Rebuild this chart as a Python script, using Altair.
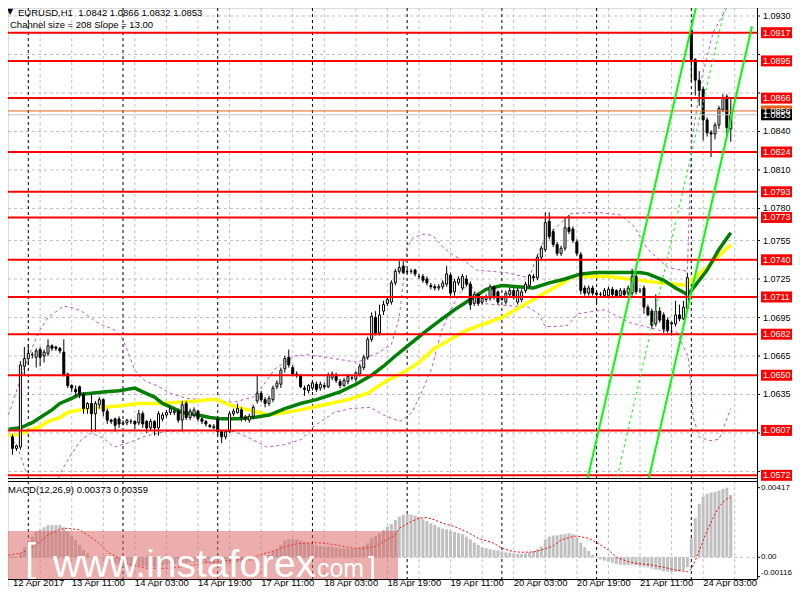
import altair as alt
import pandas as pd

# ---------------- data ----------------
bar_open = [
    1.0611, 1.0602, 1.0593, 1.0594, 1.0657, 1.0663, 1.0666, 1.0664, 1.0670, 1.0665,
    1.0667, 1.0673, 1.0672, 1.0671, 1.0668, 1.0651, 1.0642, 1.0639, 1.0641, 1.0635,
    1.0624, 1.0628, 1.0620, 1.0627, 1.0631, 1.0622, 1.0615, 1.0616, 1.0616, 1.0612,
    1.0613, 1.0614, 1.0614, 1.0613, 1.0620, 1.0614, 1.0609, 1.0614, 1.0609, 1.0616,
    1.0619, 1.0621, 1.0621, 1.0622, 1.0615, 1.0628, 1.0617, 1.0619, 1.0622, 1.0616,
    1.0614, 1.0611, 1.0609, 1.0616, 1.0606, 1.0602, 1.0606, 1.0620, 1.0621, 1.0623,
    1.0617, 1.0615, 1.0618, 1.0630, 1.0636, 1.0631, 1.0628, 1.0631, 1.0641, 1.0643,
    1.0655, 1.0664, 1.0656, 1.0651, 1.0650, 1.0640, 1.0638, 1.0640, 1.0643, 1.0640,
    1.0642, 1.0641, 1.0648, 1.0650, 1.0645, 1.0642, 1.0645, 1.0648, 1.0647, 1.0651,
    1.0656, 1.0664, 1.0678, 1.0695, 1.0683, 1.0700, 1.0706, 1.0707, 1.0722, 1.0731,
    1.0735, 1.0731, 1.0731, 1.0732, 1.0727, 1.0727, 1.0725, 1.0720, 1.0719, 1.0718,
    1.0719, 1.0721, 1.0728, 1.0715, 1.0722, 1.0718, 1.0725, 1.0721, 1.0706, 1.0713,
    1.0707, 1.0709, 1.0710, 1.0719, 1.0715, 1.0709, 1.0707, 1.0713, 1.0716, 1.0707,
    1.0709, 1.0716, 1.0720, 1.0727, 1.0726, 1.0742, 1.0748, 1.0770, 1.0762, 1.0752,
    1.0745, 1.0749, 1.0765, 1.0764, 1.0754, 1.0744, 1.0718, 1.0714, 1.0718, 1.0714,
    1.0713, 1.0712, 1.0712, 1.0717, 1.0716, 1.0712, 1.0716, 1.0714, 1.0714, 1.0727,
    1.0716, 1.0718, 1.0703, 1.0700, 1.0690, 1.0700, 1.0697, 1.0693, 1.0690, 1.0690,
    1.0697, 1.0694, 1.0702, 1.0919, 1.0896, 1.0880, 1.0873, 1.0849, 1.0839, 1.0838,
    1.0845, 1.0857, 1.0867, 1.0842,
]
bar_high = [
    1.0613, 1.0604, 1.0596, 1.0661, 1.0672, 1.0674, 1.0668, 1.0671, 1.0672, 1.0670,
    1.0678, 1.0674, 1.0673, 1.0672, 1.0678, 1.0652, 1.0643, 1.0642, 1.0642, 1.0637,
    1.0629, 1.0636, 1.0630, 1.0633, 1.0632, 1.0624, 1.0616, 1.0617, 1.0618, 1.0615,
    1.0616, 1.0616, 1.0615, 1.0623, 1.0622, 1.0615, 1.0616, 1.0615, 1.0622, 1.0621,
    1.0623, 1.0626, 1.0624, 1.0624, 1.0630, 1.0630, 1.0624, 1.0625, 1.0623, 1.0617,
    1.0615, 1.0612, 1.0612, 1.0618, 1.0607, 1.0607, 1.0622, 1.0624, 1.0628, 1.0625,
    1.0619, 1.0620, 1.0627, 1.0650, 1.0638, 1.0633, 1.0634, 1.0642, 1.0646, 1.0656,
    1.0665, 1.0670, 1.0658, 1.0653, 1.0651, 1.0642, 1.0643, 1.0646, 1.0645, 1.0645,
    1.0644, 1.0652, 1.0653, 1.0652, 1.0647, 1.0648, 1.0651, 1.0650, 1.0653, 1.0659,
    1.0666, 1.0680, 1.0699, 1.0700, 1.0705, 1.0708, 1.0711, 1.0724, 1.0733, 1.0739,
    1.0739, 1.0733, 1.0733, 1.0733, 1.0729, 1.0729, 1.0727, 1.0722, 1.0721, 1.0721,
    1.0724, 1.0735, 1.0730, 1.0725, 1.0727, 1.0729, 1.0728, 1.0723, 1.0715, 1.0714,
    1.0712, 1.0713, 1.0721, 1.0720, 1.0716, 1.0712, 1.0716, 1.0718, 1.0718, 1.0718,
    1.0717, 1.0723, 1.0729, 1.0729, 1.0744, 1.0751, 1.0777, 1.0777, 1.0764, 1.0754,
    1.0751, 1.0773, 1.0775, 1.0766, 1.0756, 1.0746, 1.0720, 1.0720, 1.0720, 1.0715,
    1.0715, 1.0718, 1.0719, 1.0719, 1.0717, 1.0718, 1.0718, 1.0720, 1.0733, 1.0729,
    1.0718, 1.0720, 1.0705, 1.0702, 1.0713, 1.0703, 1.0699, 1.0695, 1.0692, 1.0708,
    1.0705, 1.0708, 1.0730, 1.0921, 1.0897, 1.0887, 1.0875, 1.0851, 1.0841, 1.0847,
    1.0860, 1.0869, 1.0869, 1.0866,
]
bar_low = [
    1.0597, 1.0588, 1.0591, 1.0592, 1.0650, 1.0658, 1.0663, 1.0656, 1.0657, 1.0660,
    1.0665, 1.0669, 1.0669, 1.0667, 1.0649, 1.0640, 1.0637, 1.0633, 1.0632, 1.0620,
    1.0620, 1.0606, 1.0606, 1.0624, 1.0618, 1.0612, 1.0612, 1.0606, 1.0609, 1.0611,
    1.0611, 1.0612, 1.0608, 1.0611, 1.0609, 1.0605, 1.0607, 1.0603, 1.0603, 1.0614,
    1.0617, 1.0619, 1.0619, 1.0613, 1.0606, 1.0615, 1.0615, 1.0617, 1.0614, 1.0612,
    1.0610, 1.0609, 1.0608, 1.0603, 1.0597, 1.0600, 1.0605, 1.0618, 1.0620, 1.0614,
    1.0614, 1.0613, 1.0616, 1.0628, 1.0629, 1.0625, 1.0626, 1.0629, 1.0639, 1.0640,
    1.0652, 1.0656, 1.0650, 1.0648, 1.0640, 1.0634, 1.0636, 1.0638, 1.0637, 1.0638,
    1.0639, 1.0640, 1.0646, 1.0644, 1.0640, 1.0641, 1.0643, 1.0646, 1.0645, 1.0649,
    1.0654, 1.0662, 1.0676, 1.0681, 1.0681, 1.0697, 1.0704, 1.0705, 1.0720, 1.0729,
    1.0729, 1.0729, 1.0729, 1.0727, 1.0725, 1.0722, 1.0720, 1.0717, 1.0716, 1.0716,
    1.0717, 1.0719, 1.0710, 1.0712, 1.0720, 1.0716, 1.0719, 1.0701, 1.0704, 1.0704,
    1.0705, 1.0707, 1.0708, 1.0709, 1.0705, 1.0708, 1.0705, 1.0711, 1.0709, 1.0705,
    1.0707, 1.0714, 1.0718, 1.0723, 1.0724, 1.0740, 1.0746, 1.0756, 1.0750, 1.0743,
    1.0743, 1.0747, 1.0760, 1.0753, 1.0743, 1.0713, 1.0712, 1.0712, 1.0712, 1.0706,
    1.0711, 1.0711, 1.0710, 1.0711, 1.0710, 1.0711, 1.0711, 1.0712, 1.0712, 1.0713,
    1.0714, 1.0698, 1.0696, 1.0686, 1.0688, 1.0691, 1.0683, 1.0683, 1.0681, 1.0688,
    1.0692, 1.0693, 1.0700, 1.0879, 1.0868, 1.0860, 1.0833, 1.0836, 1.0820, 1.0834,
    1.0842, 1.0855, 1.0836, 1.0832,
]
bar_close = [
    1.0602, 1.0593, 1.0595, 1.0658, 1.0663, 1.0667, 1.0666, 1.0669, 1.0664, 1.0668,
    1.0673, 1.0671, 1.0671, 1.0669, 1.0650, 1.0642, 1.0640, 1.0637, 1.0635, 1.0624,
    1.0628, 1.0620, 1.0628, 1.0631, 1.0622, 1.0615, 1.0614, 1.0611, 1.0612, 1.0613,
    1.0615, 1.0614, 1.0612, 1.0620, 1.0612, 1.0609, 1.0614, 1.0609, 1.0620, 1.0619,
    1.0621, 1.0624, 1.0622, 1.0615, 1.0627, 1.0617, 1.0622, 1.0623, 1.0616, 1.0614,
    1.0612, 1.0610, 1.0610, 1.0606, 1.0602, 1.0606, 1.0620, 1.0622, 1.0624, 1.0617,
    1.0616, 1.0618, 1.0625, 1.0636, 1.0631, 1.0628, 1.0632, 1.0640, 1.0644, 1.0654,
    1.0663, 1.0658, 1.0651, 1.0650, 1.0641, 1.0639, 1.0642, 1.0644, 1.0639, 1.0643,
    1.0641, 1.0650, 1.0651, 1.0646, 1.0642, 1.0646, 1.0649, 1.0648, 1.0652, 1.0657,
    1.0664, 1.0678, 1.0696, 1.0683, 1.0697, 1.0705, 1.0709, 1.0722, 1.0731, 1.0734,
    1.0730, 1.0731, 1.0731, 1.0729, 1.0727, 1.0724, 1.0722, 1.0719, 1.0718, 1.0719,
    1.0722, 1.0729, 1.0714, 1.0723, 1.0725, 1.0727, 1.0721, 1.0705, 1.0713, 1.0706,
    1.0710, 1.0711, 1.0719, 1.0712, 1.0707, 1.0710, 1.0714, 1.0716, 1.0711, 1.0716,
    1.0715, 1.0721, 1.0728, 1.0726, 1.0742, 1.0749, 1.0769, 1.0758, 1.0752, 1.0745,
    1.0749, 1.0765, 1.0762, 1.0755, 1.0745, 1.0716, 1.0714, 1.0718, 1.0714, 1.0713,
    1.0713, 1.0716, 1.0717, 1.0713, 1.0712, 1.0716, 1.0713, 1.0718, 1.0727, 1.0715,
    1.0716, 1.0703, 1.0697, 1.0689, 1.0700, 1.0693, 1.0686, 1.0685, 1.0691, 1.0697,
    1.0694, 1.0703, 1.0726, 1.0896, 1.0880, 1.0872, 1.0849, 1.0839, 1.0838, 1.0845,
    1.0858, 1.0866, 1.0843, 1.0853,
]

# MACD main (histogram) in units of 1e-5
macd_e5 = [
    14, 8, 0, 24, 60, 94, 124, 154, 168, 180,
    192, 194, 194, 194, 180, 154, 128, 104, 74, 44,
    24, 4, 0, 0, -8, -20, -32, -42, -48, -52,
    -56, -56, -56, -52, -54, -56, -56, -58, -52, -48,
    -44, -40, -38, -40, -32, -32, -30, -28, -30, -32,
    -34, -36, -38, -44, -50, -50, -40, -32, -28, -26,
    -24, -22, -20, -6, 0, 4, 14, 34, 48, 74,
    100, 108, 110, 108, 100, 92, 84, 80, 72, 68,
    64, 64, 62, 58, 54, 54, 52, 52, 52, 58,
    68, 84, 114, 128, 144, 164, 184, 200, 224, 244,
    254, 258, 256, 250, 244, 228, 218, 204, 194, 180,
    172, 168, 158, 152, 144, 138, 124, 108, 88, 74,
    60, 54, 48, 44, 40, 36, 30, 28, 24, 20,
    20, 24, 30, 38, 48, 64, 108, 124, 130, 132,
    136, 140, 144, 138, 118, 88, 60, 38, 14, -4,
    -12, -20, -26, -32, -40, -44, -46, -46, -44, -48,
    -52, -56, -60, -68, -72, -76, -84, -86, -88, -86,
    -84, -76, -60, 114, 234, 320, 364, 380, 388, 392,
    400, 410, 417, 373,
]
# MACD signal (red dotted), 1e-5 units
signal_idx = [0, 3, 5, 8, 10, 13, 15, 18, 20, 23, 25, 28, 30, 33, 35, 38, 40, 43, 45, 48,
              50, 53, 55, 58, 60, 63, 65, 68, 70, 73, 75, 78, 80, 83, 85, 88, 90, 93, 95, 98,
              99, 102, 104, 106, 108, 110, 113, 116, 119, 123, 125, 128, 130, 133, 135, 138, 140, 143, 144, 147,
              149, 152, 154, 157, 159, 163, 166, 169, 172, 173, 174, 175, 176, 177, 178, 179, 180, 181, 182, 183]
signal_e5 = [14, 24, 44, 94, 134, 168, 174, 164, 134, 84, 34, -6, -36, -56, -66, -66, -66, -60, -52, -42,
             -32, -26, -20, -16, -6, 8, 24, 44, 64, 80, 84, 88, 84, 74, 64, 54, 54, 64, 94, 134,
             174, 214, 234, 238, 224, 204, 184, 154, 114, 84, 54, 34, 30, 32, 44, 68, 104, 124, 128, 114,
             88, 44, 0, -26, -36, -46, -60, -76, -86, -70, -20, 40, 100, 160, 210, 260, 300, 330, 350, 359]

# moving averages (dark green = fast, yellow = slow)
green_idx = [0, 3, 6, 8, 11, 13, 16, 18, 21, 24, 28, 32, 34, 37, 39, 42, 44, 48, 51, 54, 58, 62, 66, 70, 74,
             78, 84, 88, 92, 95, 98, 102, 106, 109, 113, 117, 121, 125, 129, 133, 137, 141, 145, 149, 160,
             162, 166, 169, 172, 173, 177, 180, 183]
green_val = [1.0608, 1.0609, 1.0613, 1.0617, 1.0623, 1.0628, 1.0632, 1.0635, 1.0636, 1.0637, 1.0638, 1.0640,
             1.0637, 1.0633, 1.0628, 1.0624, 1.0621, 1.0619, 1.0617, 1.0616, 1.0616, 1.0617, 1.0619, 1.0624,
             1.0628, 1.0631, 1.0637, 1.0643, 1.0650, 1.0657, 1.0665, 1.0675, 1.0685, 1.0692, 1.0701, 1.0709,
             1.0717, 1.0720, 1.0719, 1.0718, 1.0722, 1.0725, 1.0729, 1.0730, 1.0730, 1.0729, 1.0724, 1.0718,
             1.0713, 1.0716, 1.0732, 1.0748, 1.0761]
yellow_idx = [0, 3, 5, 8, 10, 13, 15, 18, 20, 24, 28, 33, 38, 43, 48, 51, 53, 55, 58, 62, 66, 70, 74, 80, 86,
              91, 96, 100, 104, 108, 116, 125, 133, 141, 143, 147, 152, 157, 160, 165, 169, 172, 173, 177, 183]
yellow_val = [1.0603, 1.0604, 1.0607, 1.0610, 1.0614, 1.0617, 1.0621, 1.0623, 1.0624, 1.0625, 1.0626, 1.0628,
              1.0628, 1.0629, 1.0630, 1.0631, 1.0631, 1.0628, 1.0625, 1.0622, 1.0619, 1.0621, 1.0623, 1.0627,
              1.0631, 1.0636, 1.0646, 1.0652, 1.0660, 1.0671, 1.0685, 1.0695, 1.0709, 1.0723, 1.0727, 1.0727,
              1.0727, 1.0725, 1.0724, 1.0722, 1.0721, 1.0720, 1.0724, 1.0734, 1.0752]

# Bollinger bands (purple dotted); the lower band leaves the window at the bottom between bars ~5 and ~13
bb_up_idx = [0, 4, 7.5, 10, 14, 17, 19, 22, 24, 27, 29, 31, 32, 33.5, 35, 37.5, 41, 45, 57, 62, 64, 67.5, 70,
             72.5, 76, 82.5, 88.5, 91, 94, 97, 99, 101, 102.5, 105, 107.5, 110, 112.5, 116, 118.5, 126, 132,
             133.5, 136, 139, 142.5, 149, 155, 158.5, 162, 167, 172, 173, 175.5, 178.5, 183]
bb_up_val = [1.0619, 1.0656, 1.0683, 1.0695, 1.0704, 1.0702, 1.0699, 1.0692, 1.0689, 1.0685, 1.0678, 1.0662,
             1.0654, 1.0648, 1.0645, 1.0642, 1.0636, 1.0632, 1.0629, 1.0633, 1.0640, 1.0655, 1.0660, 1.0665,
             1.0666, 1.0663, 1.0660, 1.0664, 1.0668, 1.0674, 1.0695, 1.0750, 1.0757, 1.0760, 1.0759, 1.0750,
             1.0744, 1.0738, 1.0732, 1.0730, 1.0726, 1.0740, 1.0757, 1.0766, 1.0776, 1.0777, 1.0775, 1.0766,
             1.0748, 1.0734, 1.0731, 1.0830, 1.0880, 1.0917, 1.0942]
bb_lo1_idx = [0.5, 2.5, 4.25, 5.2]
bb_lo1_val = [1.0603, 1.0592, 1.0576, 1.0570]
bb_lo2_idx = [12.7, 13.5, 16, 18.5, 21, 24, 26.75, 31, 34.25, 39.25, 45, 51.75, 57.5, 61.75,
              65.5, 70, 74.25, 76.75, 82.5, 86.75, 91.75, 95, 99.25, 102.25, 105, 107.25, 109.75, 111.75,
              114.25, 116.75, 120, 123.5, 131.75, 134.25, 136, 139.25, 141.75, 144.25, 151, 157.5, 165,
              169.25, 172.25, 173.5, 175, 177.5, 180, 183]
bb_lo2_val = [1.0570, 1.0576, 1.0589, 1.0600, 1.0605, 1.0601, 1.0594, 1.0598,
              1.0602, 1.0606, 1.0607, 1.0607, 1.0606, 1.0600, 1.0594, 1.0596, 1.0600, 1.0609, 1.0621, 1.0624,
              1.0625, 1.0619, 1.0614, 1.0621, 1.0639, 1.0656, 1.0685, 1.0699, 1.0714, 1.0722, 1.0706, 1.0705,
              1.0703, 1.0698, 1.0688, 1.0688, 1.0689, 1.0698, 1.0701, 1.0691, 1.0685, 1.0684, 1.0664, 1.0617,
              1.0602, 1.0599, 1.0600, 1.0624]

# linear regression channel (bright green), end points read on the picture
chan_lo_idx = [146.75, 174.6]
chan_lo_val = [1.0570, 1.09425]
chan_mid_idx = [154.25, 182.0]
chan_mid_val = [1.0571, 1.0943]
chan_hi_idx = [162.25, 188.375]
chan_hi_val = [1.0570, 1.0922]

levels = [1.0917, 1.0895, 1.0866, 1.0824, 1.0793, 1.0773, 1.0740, 1.0711, 1.0682, 1.0650, 1.0607, 1.0572]
ask_price = 1.0856
bid_price = 1.0853

day_starts = [5, 29, 53, 77, 101, 125, 149, 173]
price_grid = [1.0930, 1.0900, 1.0870, 1.0840, 1.0810, 1.0780, 1.0755, 1.0725, 1.0695, 1.0665, 1.0635,
              1.0605, 1.0575]
price_labels = [1.0930, 1.0840, 1.0810, 1.0780, 1.0755, 1.0725, 1.0695, 1.0665, 1.0635]
time_tick_idx = [0, 16, 32, 48, 64, 80, 96, 112, 128, 144, 160, 176]
time_tick_text = ["12 Apr 2017", "13 Apr 11:00", "14 Apr 03:00", "14 Apr 19:00", "17 Apr 11:00",
                  "18 Apr 03:00", "18 Apr 19:00", "19 Apr 11:00", "20 Apr 03:00", "20 Apr 19:00",
                  "21 Apr 11:00", "24 Apr 03:00"]
macd_ticks = [0.00417, 0.0]
macd_tick_text = ["0.00417", "0.00"]
macd_min_tick = -0.00116
macd_min_text = "-0.00116"

header_text = "EURUSD,H1\u00a0 1.0842 1.0866 1.0832 1.0853"
channel_text = "Channel size = 208 Slope = 13.00"
macd_title = "MACD(12,26,9) 0.00373 0.00359"
wm_texts = ["[", "www.instaforex", ".com", "]"]

# ---------------- layout / style ----------------
FONT = "Liberation Sans"
FS = 9.5
FS_R = 9                   # texts on the price scale
FS_M = 8                   # texts on the MACD scale
GRID = "#C0C0C0"
X_MIN, X_MAX = 1.125, 188.375
VW, VH = 784, 579          # whole drawing (fits the 800x600 page inside its 8px margin)
PW = 749                   # plot width (price scale to the right)
M_TOP, M_BOT = 0, 470      # price panel
B_TOP, B_BOT = 473, 571    # MACD panel
PX_PER_PRICE = 12830.0
BOX_HALF = 5.5 / PX_PER_PRICE

xs = alt.Scale(domain=[X_MIN, X_MAX], range=[0, PW], nice=False, zero=False)
ys = alt.Scale(domain=[1.056991, 1.093624], range=[M_BOT, M_TOP], nice=False, zero=False)
ms = alt.Scale(domain=[-0.00130, 0.004572], range=[B_BOT, B_TOP], nice=False, zero=False)


def X(f="i"):
    return alt.X(f"{f}:Q", scale=xs, axis=None)


def YM(f):
    return alt.Y(f"{f}:Q", scale=ys, axis=None)


def YB(f):
    return alt.Y(f"{f}:Q", scale=ms, axis=None)


def txt(s, x, y, size=FS, align="left", baseline="middle", color="black", font=FONT):
    return alt.Chart(pd.DataFrame({"t": [s]})).mark_text(
        align=align, baseline=baseline, font=font, fontSize=size, color=color).encode(
        x=alt.value(x), y=alt.value(y), text="t:N")


# ---------------- tables ----------------
n = len(bar_close)
candles = pd.DataFrame({"i": list(range(n)), "o": bar_open, "h": bar_high, "l": bar_low, "c": bar_close})
candles = candles[candles["i"] >= 1]
seps = pd.DataFrame({"i": day_starts})
vgrid = pd.DataFrame({"i": list(range(8, 189, 8))})
hgrid = pd.DataFrame({"p": price_grid})
plabels = pd.DataFrame({"p": price_labels, "t": [f"{v:.4f}" for v in price_labels]})
green = pd.DataFrame({"i": green_idx, "p": green_val})
yellow = pd.DataFrame({"i": yellow_idx, "p": yellow_val})
bb = pd.concat([pd.DataFrame({"i": bb_up_idx, "p": bb_up_val, "k": "up"}),
                pd.DataFrame({"i": bb_lo1_idx, "p": bb_lo1_val, "k": "lo1"}),
                pd.DataFrame({"i": bb_lo2_idx, "p": bb_lo2_val, "k": "lo2"})])
chan_solid = pd.concat([pd.DataFrame({"i": chan_lo_idx, "p": chan_lo_val, "k": "a"}),
                        pd.DataFrame({"i": chan_hi_idx, "p": chan_hi_val, "k": "b"})])
chan_mid = pd.DataFrame({"i": chan_mid_idx, "p": chan_mid_val})
lev = pd.DataFrame({"p": levels})

box_p = levels + [ask_price, bid_price]
box_col = ["#FF0000"] * len(levels) + ["#E8601C", "#000000"]
boxes = pd.DataFrame({"p": box_p, "col": box_col})
boxes["lo"] = boxes["p"] - BOX_HALF
boxes["hi"] = boxes["p"] + BOX_HALF
boxes["txt"] = [f"{v:.4f}" for v in box_p]

macd = pd.DataFrame({"i": list(range(n)), "v": [m * 1e-5 for m in macd_e5], "z": 0.0})
macd = macd[macd["i"] >= 1]
sig = pd.DataFrame({"i": signal_idx, "v": [s * 1e-5 for s in signal_e5]})
mlabels = pd.DataFrame({"v": macd_ticks, "t": macd_tick_text})
mmin = pd.DataFrame({"v": [macd_min_tick], "t": [macd_min_text]})
tlabels = pd.DataFrame({"i": [max(k, X_MIN) for k in time_tick_idx], "t": time_tick_text})
one = pd.DataFrame({"a": [0]})

# ---------------- price panel ----------------
vgrid_m = alt.Chart(vgrid).mark_rule(color=GRID, strokeDash=[3, 3], strokeWidth=1).encode(
    x=X(), y=alt.value(M_TOP), y2=alt.value(M_BOT))
hgrid_m = alt.Chart(hgrid).mark_rule(color=GRID, strokeDash=[3, 3], strokeWidth=1).encode(
    y=YM("p"), x=alt.value(0), x2=alt.value(PW))
sep_m = alt.Chart(seps).mark_rule(color="black", strokeDash=[3, 3], strokeWidth=1).encode(
    x=X(), y=alt.value(M_TOP), y2=alt.value(M_BOT))
bands = alt.Chart(bb).mark_line(color="#BA55D3", strokeDash=[3, 3], strokeWidth=1).encode(
    x=X(), y=YM("p"), detail="k:N")
ma_slow = alt.Chart(yellow).mark_line(color="#FFFF00", strokeWidth=3.5).encode(x=X(), y=YM("p"))
ma_fast = alt.Chart(green).mark_line(color="#008000", strokeWidth=3.5).encode(x=X(), y=YM("p"))
wicks = alt.Chart(candles).mark_rule(color="black", strokeWidth=1).encode(x=X(), y=YM("l"), y2="h")
bodies = alt.Chart(candles).mark_bar(width=2, stroke="black", strokeWidth=1).encode(
    x=X(), y=YM("o"), y2="c",
    fill=alt.condition("datum.c >= datum.o", alt.value("white"), alt.value("black")))
level_lines = alt.Chart(lev).mark_rule(color="#FF0000", strokeWidth=2).encode(
    y=YM("p"), x=alt.value(0), x2=alt.value(PW))
ask_line = alt.Chart(pd.DataFrame({"p": [ask_price]})).mark_rule(color="#E8601C", strokeWidth=1).encode(
    y=YM("p"), x=alt.value(0), x2=alt.value(PW))
bid_line = alt.Chart(pd.DataFrame({"p": [bid_price]})).mark_rule(color="#C0C0C0", strokeWidth=1).encode(
    y=YM("p"), x=alt.value(0), x2=alt.value(PW))
chan_lines = alt.Chart(chan_solid).mark_line(color="#00FF00", strokeWidth=2).encode(
    x=X(), y=YM("p"), detail="k:N")
chan_center = alt.Chart(chan_mid).mark_line(color="#00FF00", strokeWidth=1, strokeDash=[3, 3]).encode(
    x=X(), y=YM("p"))
price_ticks = alt.Chart(hgrid).mark_rule(color="black", strokeWidth=1).encode(
    y=YM("p"), x=alt.value(PW), x2=alt.value(PW + 3))
price_text = alt.Chart(plabels).mark_text(align="left", baseline="middle", font=FONT, fontSize=FS_R,
                                          color="black").encode(x=alt.value(PW + 6), y=YM("p"), text="t:N")
box_rects = alt.Chart(boxes).mark_rect().encode(
    x=alt.value(PW + 4), x2=alt.value(VW), y=YM("lo"), y2="hi", color=alt.Color("col:N", scale=None))
box_text = alt.Chart(boxes).mark_text(align="left", baseline="middle", color="white", font=FONT,
                                      fontSize=FS_R).encode(x=alt.value(PW + 6), y=YM("p"), text="txt:N")
border_r = alt.Chart(one).mark_rule(color="black", strokeWidth=1).encode(
    x=alt.value(PW + 0.5), y=alt.value(0), y2=alt.value(B_BOT + 0.5))
border_mb = alt.Chart(one).mark_rule(color="black", strokeWidth=1).encode(
    y=alt.value(M_BOT + 0.5), x=alt.value(0), x2=alt.value(PW))

# ---------------- MACD panel ----------------
vgrid_b = alt.Chart(vgrid).mark_rule(color=GRID, strokeDash=[3, 3], strokeWidth=1).encode(
    x=X(), y=alt.value(B_TOP), y2=alt.value(B_BOT))
sep_b = alt.Chart(seps).mark_rule(color="black", strokeDash=[3, 3], strokeWidth=1).encode(
    x=X(), y=alt.value(B_TOP), y2=alt.value(B_BOT))
zero_line = alt.Chart(pd.DataFrame({"v": [0.0]})).mark_rule(color=GRID, strokeDash=[3, 3], strokeWidth=1).encode(
    y=YB("v"), x=alt.value(0), x2=alt.value(PW))
hist = alt.Chart(macd).mark_bar(width=3, color="#C0C0C0").encode(x=X(), y=YB("v"), y2="z")
sig_line = alt.Chart(sig).mark_line(color="#FF0000", strokeDash=[2, 2], strokeWidth=1).encode(
    x=X(), y=YB("v"))
macd_ticks_r = alt.Chart(pd.concat([mlabels, mmin])).mark_rule(color="black", strokeWidth=1).encode(
    y=YB("v"), x=alt.value(PW), x2=alt.value(PW + 3))
macd_text = alt.Chart(mlabels).mark_text(align="left", baseline="middle", font=FONT, fontSize=FS_M,
                                         color="black").encode(x=alt.value(PW + 4), y=YB("v"), text="t:N")
macd_min_text_l = alt.Chart(mmin).mark_text(align="left", baseline="bottom", font=FONT, fontSize=FS_M,
                                            color="black").encode(x=alt.value(PW + 4), y=YB("v"), text="t:N")
wm_rect = alt.Chart(one).mark_rect(color="#D95B5B", opacity=0.5).encode(
    x=alt.value(0), x2=alt.value(390), y=alt.value(B_TOP + 50), y2=alt.value(B_BOT))
wm_pos = [(17, B_TOP + 91, 40), (45, B_TOP + 96, 39), (302, B_TOP + 96, 25), (360, B_TOP + 95, 28)]
wm_layers = [txt(t, xv, yv, size=fs, baseline="alphabetic", color="white")
             for t, (xv, yv, fs) in zip(wm_texts, wm_pos)]
time_text = alt.Chart(tlabels).mark_text(align="left", baseline="alphabetic", font=FONT, fontSize=FS,
                                         color="black").encode(x=X(), y=alt.value(VH - 1.5), text="t:N")
border_bt = alt.Chart(one).mark_rule(color="black", strokeWidth=1).encode(
    y=alt.value(B_TOP + 0.5), x=alt.value(0), x2=alt.value(PW))
border_bb = alt.Chart(one).mark_rule(color="black", strokeWidth=1).encode(
    y=alt.value(B_BOT + 0.5), x=alt.value(0), x2=alt.value(PW))

layers = [
    vgrid_m, hgrid_m, sep_m, bands, ma_slow, ma_fast, wicks, bodies, level_lines, ask_line, bid_line,
    chan_lines, chan_center, price_ticks, price_text, box_rects, box_text, border_r, border_mb,
    txt("\u25bc", 2, 4, size=8, align="center", font="DejaVu Sans"),
    txt(header_text, 10, 4.5),
    txt(channel_text, 2, 16.5),
    vgrid_b, sep_b, zero_line, hist, sig_line, macd_ticks_r, macd_text, macd_min_text_l,
    wm_rect, *wm_layers,
    txt(macd_title, 0, B_TOP + 9),
    time_text, border_bt, border_bb,
]

chart = alt.layer(*layers).resolve_scale(y="independent").properties(
    width=VW, height=VH, autosize=alt.AutoSizeParams(type="none"), padding=0
).configure_view(strokeOpacity=0).configure(background="white")

chart.save("out.html", embed_options={"renderer": "svg", "actions": False})
